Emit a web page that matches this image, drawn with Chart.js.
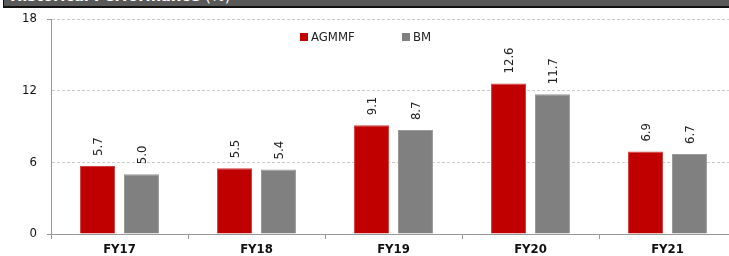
<!DOCTYPE html>
<html><head><meta charset="utf-8">
<script src="https://cdn.jsdelivr.net/npm/chart.js@4/dist/chart.umd.min.js"></script>
<style>
html,body{margin:0;padding:0;background:#fff;overflow:hidden;width:729px;height:256px;}
#wrap{position:absolute;left:0;top:0;width:736px;height:256px;}
#hdr{position:absolute;left:3px;top:0;width:740px;height:6px;background:#595959;border-left:1px solid #111;border-bottom:2px solid #111;overflow:hidden;z-index:2;}
#hdr span{position:absolute;left:6px;top:-13px;white-space:nowrap;color:#fff;font:bold 15px "DejaVu Sans",sans-serif;letter-spacing:-0.2px;}
#hdr span i{font-style:normal;font-weight:normal;}
</style></head>
<body>
<div id="hdr"><span>Historical Performance <i>(%)</i></span></div>
<div id="wrap"><canvas id="c" width="736" height="256"></canvas></div>
<script>
const categories = ["FY17","FY18","FY19","FY20","FY21"];
const seriesNames = ["AGMMF","BM"];
const agmmf = [5.7,5.5,9.1,12.6,6.9];
const bm = [5.0,5.4,8.7,11.7,6.7];
const yTicks = [0,6,12,18];

const FONT = '"DejaVu Sans Condensed","DejaVu Sans",sans-serif';

const labelPlugin = {
  id:'vals',
  afterDatasetsDraw(chart){
    const ctx = chart.ctx;
    ctx.save();
    ctx.font = '13px ' + FONT;
    ctx.fillStyle = '#222';
    ctx.textAlign = 'left';
    ctx.textBaseline = 'middle';
    chart.data.datasets.forEach((ds,i)=>{
      const meta = chart.getDatasetMeta(i);
      meta.data.forEach((bar,j)=>{
        const v = ds.data[j];
        ctx.save();
        ctx.translate(bar.x+1, bar.y - 10);
        ctx.rotate(-Math.PI/2);
        ctx.fillText(v.toFixed(1), 0, 0);
        ctx.restore();
      });
    });
    ctx.restore();
  }
};

const legendPlugin = {
  id:'leg',
  afterDraw(chart){
    const ctx = chart.ctx;
    ctx.save();
    ctx.font = '13px ' + FONT;
    ctx.textBaseline = 'middle';
    ctx.textAlign = 'left';
    const items = [{x:300,c:'#C00000',t:seriesNames[0]},{x:402,c:'#808080',t:seriesNames[1]}];
    items.forEach(it=>{
      ctx.fillStyle = it.c;
      ctx.fillRect(it.x, 33, 8, 8);
      ctx.fillStyle = '#222';
      ctx.fillText(it.t, it.x+11, 37.5);
    });
    ctx.restore();
  }
};

new Chart(document.getElementById('c'),{
  type:'bar',
  data:{
    labels:categories,
    datasets:[
      {label:seriesNames[0],data:agmmf,backgroundColor:'#C00000',borderColor:'#d04040',borderWidth:1,categoryPercentage:0.642,barPercentage:0.795},
      {label:seriesNames[1],data:bm,backgroundColor:'#808080',borderColor:'#999',borderWidth:1,categoryPercentage:0.642,barPercentage:0.795}
    ]
  },
  options:{
    responsive:false,
    animation:false,
    devicePixelRatio:1,
    layout:{padding:{left:0,right:0,top:19,bottom:0}},
    plugins:{legend:{display:false},tooltip:{enabled:false}},
    scales:{
      x:{
        grid:{display:true,drawOnChartArea:false,drawTicks:true,tickLength:5,offset:true,color:'#999'},
        border:{display:true,color:'#999',width:1},
        ticks:{color:'#111',font:{family:FONT,size:13,weight:'bold'},padding:3},
        afterFit(s){s.height=22;}
      },
      y:{
        min:0,max:18,
        afterBuildTicks(s){s.ticks = yTicks.map(v=>({value:v}));},
        grid:{color:(c)=> c.tick && c.tick.value===0 ? 'rgba(0,0,0,0)' : '#cccccc',
              tickColor:(c)=> (c.tick && (c.tick.value===0||c.tick.value===18)) ? '#999' : 'rgba(0,0,0,0)',
              drawTicks:true,tickLength:4},
        border:{display:true,color:'#999',width:1,dash:[3,2]},
        ticks:{color:'#111',font:{family:FONT,size:13},padding:10},
        afterFit(s){s.width=51;}
      }
    }
  },
  plugins:[labelPlugin,legendPlugin]
});
</script>
</body></html>
